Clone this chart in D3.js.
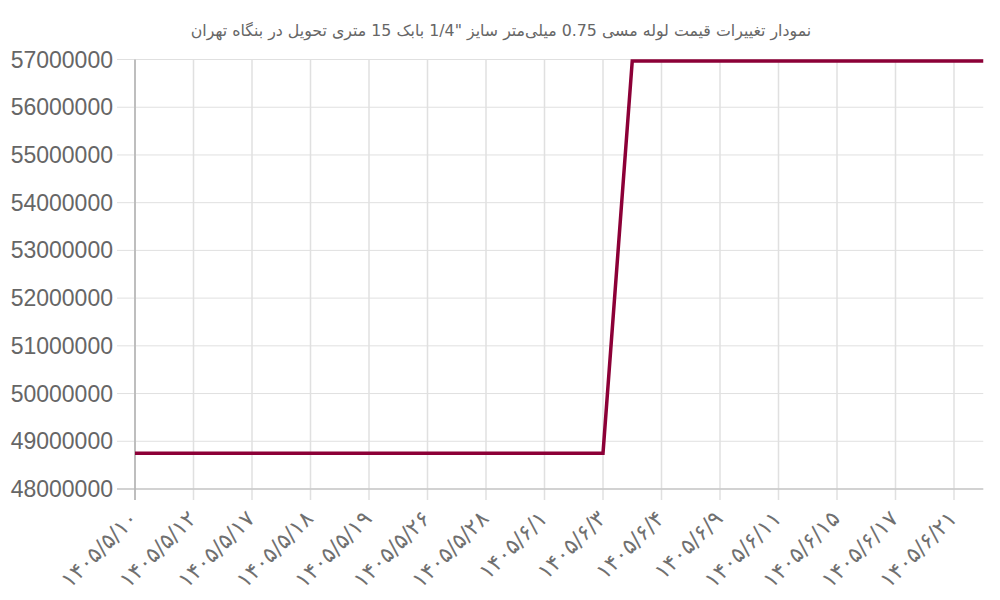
<!DOCTYPE html>
<html><head><meta charset="utf-8">
<script src="https://cdn.jsdelivr.net/npm/d3@7"></script>
<style>body{margin:0;background:#fff}svg{display:block}</style>
</head><body>
<svg id="c" width="1000" height="600"></svg>
<script>
const titleText = 'نمودار تغییرات قیمت لوله مسی 0.75 میلی‌متر سایز "1/4 بابک 15 متری تحویل در بنگاه تهران';
// labels shown on every other data point
const tickLabels = ["۱۴۰۵/۵/۱۰","۱۴۰۵/۵/۱۲","۱۴۰۵/۵/۱۷","۱۴۰۵/۵/۱۸","۱۴۰۵/۵/۱۹","۱۴۰۵/۵/۲۶","۱۴۰۵/۵/۲۸","۱۴۰۵/۶/۱","۱۴۰۵/۶/۳","۱۴۰۵/۶/۴","۱۴۰۵/۶/۹","۱۴۰۵/۶/۱۱","۱۴۰۵/۶/۱۵","۱۴۰۵/۶/۱۷","۱۴۰۵/۶/۲۱"];
const prices = [48750000,48750000,48750000,48750000,48750000,48750000,48750000,48750000,48750000,48750000,48750000,48750000,48750000,48750000,48750000,48750000,48750000,
  56970000,56970000,56970000,56970000,56970000,56970000,56970000,56970000,56970000,56970000,56970000,56970000,56970000];
const yTicks = [48000000,49000000,50000000,51000000,52000000,53000000,54000000,55000000,56000000,57000000];

const svg = d3.select("#c");
const L=135, R=983.25, T=59.5, B=489;
const x = d3.scaleLinear().domain([0, prices.length-1]).range([L, R]);
const y = d3.scaleLinear().domain([48000000, 57000000]).range([B, T]);
const tickIdx = tickLabels.map((d,i)=>i*2);

// horizontal grid
svg.append("g").selectAll("line").data(yTicks).join("line")
  .attr("x1", L-18).attr("x2", R).attr("y1", d=>y(d)).attr("y2", d=>y(d))
  .attr("stroke", "#e0e0e0").attr("stroke-width", 1);
// vertical grid + ticks
svg.append("g").selectAll("line").data(tickIdx).join("line")
  .attr("x1", d=>x(d)).attr("x2", d=>x(d)).attr("y1", T).attr("y2", B+11)
  .attr("stroke", "#e0e0e0").attr("stroke-width", 1.5);
// axes lines
svg.append("line").attr("x1", L-18).attr("x2", R).attr("y1", B).attr("y2", B)
  .attr("stroke", "#c8c8c8").attr("stroke-width", 1.5);
svg.append("line").attr("x1", L).attr("x2", L).attr("y1", T).attr("y2", B+11)
  .attr("stroke", "#b0b0b0").attr("stroke-width", 1.5);

// y labels
svg.append("g").selectAll("text").data(yTicks).join("text")
  .attr("x", L-22).attr("y", d=>y(d)).attr("dy", "0.35em")
  .attr("text-anchor", "end").attr("fill", "#666")
  .attr("font-family", "Liberation Sans, Arial, sans-serif").attr("font-size", 23)
  .text(d=>d3.format("d")(d));

// x labels
svg.append("g").selectAll("text").data(tickIdx).join("text")
  .attr("transform", (d,i)=>`translate(${x(d)+4},${B+31}) rotate(-45)`)
  .attr("text-anchor", "end").attr("fill", "#707070")
  .attr("font-family", "DejaVu Sans, sans-serif").attr("font-size", 22)
  .text((d,i)=>tickLabels[i]);

// line
svg.append("path").datum(prices)
  .attr("d", d3.line().x((d,i)=>x(i)).y(d=>y(d)))
  .attr("fill", "none").attr("stroke", "#8c0037").attr("stroke-width", 3.5)
  .attr("stroke-linejoin", "miter");

// title
svg.append("text").attr("x", 501).attr("y", 36).attr("text-anchor", "middle")
  .attr("fill", "#666").attr("font-family", "DejaVu Sans, sans-serif").attr("font-size", 15.8)
  .attr("direction", "rtl")
  .text(titleText);
</script>
</body></html>
